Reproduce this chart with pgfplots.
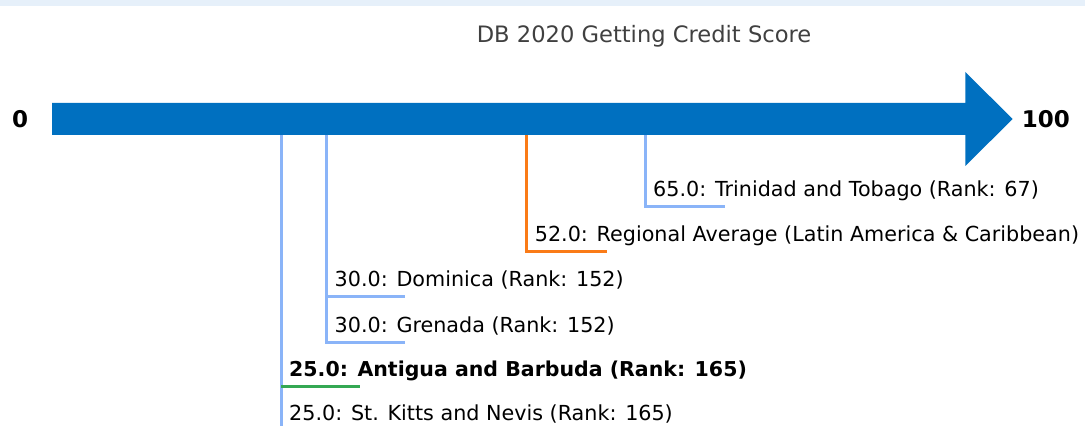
\documentclass[border=0pt]{standalone}
\usepackage{pgfplots}
\pgfplotsset{compat=1.18}
\usepackage{fontspec}
\setmainfont{DejaVu Sans}
\definecolor{arrowblue}{HTML}{0070C0}
\definecolor{lblue}{HTML}{8AB4F8}
\definecolor{gorange}{HTML}{FA7B17}
\definecolor{ggreen}{HTML}{34A853}
\definecolor{strip}{HTML}{E6F0FA}
\definecolor{titlegray}{HTML}{404040}
\begin{document}
\begin{tikzpicture}
\begin{axis}[
  at={(0,0)}, anchor=south west,
  width=1085pt, height=426pt, scale only axis,
  xmin=-5.879, xmax=113.352, ymin=0, ymax=426,
  y dir=reverse, hide axis, clip=false,
]
% top strip
\fill[strip] (rel axis cs:0,1) rectangle (rel axis cs:1,0.986);
% title
\node[font=\fontsize{22.6}{26}\selectfont, text=titlegray] at (axis cs:64.9,36) {DB 2020 Getting Credit Score};
% arrow
\addplot[fill=arrowblue, draw=none] coordinates {
  (-0.16,103) (100.2,103) (100.2,72) (105.4,119) (100.2,166) (100.2,135) (-0.16,135)} -- cycle;
\node[font=\fontsize{23}{26}\selectfont\bfseries] at (axis cs:-3.68,119) {0};
\node[font=\fontsize{23}{26}\selectfont\bfseries, anchor=west, inner sep=0pt] at (axis cs:106.4,119) {100};
% leaders
\addplot[lblue, line width=3pt] coordinates {(65,135) (65,207) (73.8,207)};
\addplot[gorange, line width=3pt] coordinates {(52,135) (52,252) (60.8,252)};
\addplot[lblue, line width=3pt] coordinates {(30,135) (30,297) (38.6,297)};
\addplot[lblue, line width=3pt] coordinates {(30,135) (30,342) (38.6,342)};
\addplot[lblue, line width=3pt] coordinates {(25,135) (25,426)};
\addplot[ggreen, line width=3pt] coordinates {(25,386) (33.7,386)};
% labels
\tikzset{lab/.style={anchor=base west, inner sep=0pt, font=\fontsize{20.7}{24}\selectfont}}
\node[lab] at (axis cs:65.88,197) {65.0: Trinidad and Tobago (Rank: 67)};
\node[lab] at (axis cs:52.88,242) {52.0: Regional Average (Latin America \& Caribbean)};
\node[lab] at (axis cs:30.88,287) {30.0: Dominica (Rank: 152)};
\node[lab] at (axis cs:30.88,332) {30.0: Grenada (Rank: 152)};
\node[lab, font=\fontsize{20.5}{24}\selectfont\bfseries] at (axis cs:25.88,376) {25.0: Antigua and Barbuda (Rank: 165)};
\node[lab] at (axis cs:25.88,420) {25.0: St. Kitts and Nevis (Rank: 165)};
\end{axis}
\end{tikzpicture}
\end{document}
